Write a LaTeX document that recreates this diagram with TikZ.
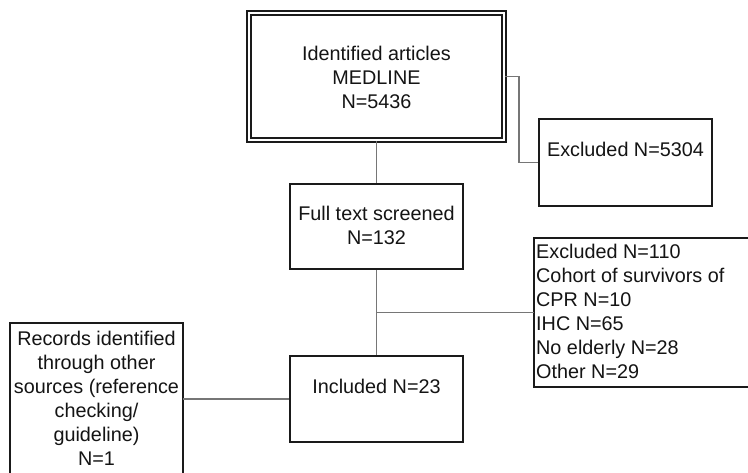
\documentclass[tikz,border=0pt]{standalone}
\usepackage{fontspec}
\setmainfont{Liberation Sans}
\definecolor{boxline}{HTML}{1A1A1A}
\definecolor{linkline}{HTML}{767676}
\definecolor{ink}{HTML}{141414}
\begin{document}
\begin{tikzpicture}[x=1pt,y=-1pt,
  box/.style={draw=boxline,line width=2pt,rectangle,inner sep=0pt,minimum width=173pt},
  openbox/.style={rectangle,inner sep=0pt},
  edge/.style={draw=boxline,line width=2pt},
  dbox/.style={draw=boxline,line width=1.8pt,double=white,double distance=2.4pt,rectangle,inner sep=0pt},
  link/.style={draw=linkline,line width=1.8pt},
  txt/.style={inner sep=0pt,text=ink,font=\fontsize{19.8}{24}\selectfont}
]
\useasboundingbox (0,0) rectangle (748,472);
\clip (0,0) rectangle (748,472);
\fill[white] (0,0) rectangle (748,472);

% boxes
\node[dbox,minimum width=255pt,minimum height=127pt] (ident) at (376.5,76.5) {};
\node[box,minimum height=87pt] (excl1) at (625.5,162.5) {};
\node[box,minimum height=85pt] (full) at (376.5,226.5) {};
\node[box,minimum height=86pt] (incl) at (376.5,399) {};
% boxes that run off the edge: only their visible sides are drawn
\node[openbox,minimum width=240pt,minimum height=149pt] (excl2) at (654,312.5) {};
\draw[edge] (excl2.north east) -- (excl2.north west) -- (excl2.south west) -- (excl2.south east);
\node[openbox,minimum width=173pt,minimum height=177pt] (other) at (96.5,411.5) {};
\draw[edge] (other.south west) -- (other.north west) -- (other.north east) -- (other.south east);

% texts
\node[txt,anchor=north,align=center] (tIdent) at (376.5,45.7)
  {Identified articles\\MEDLINE\\N=5436};
\node[txt,anchor=north] (tExcl1) at (625.5,142.2) {Excluded N=5304};
\node[txt,anchor=north,align=center] (tFull) at (376.5,205.7)
  {Full text screened\\N=132};
\node[txt,anchor=north west,align=left] (tExcl2) at (536,244.4)
  {Excluded N=110\\Cohort of survivors of\\CPR N=10\\IHC N=65\\No elderly N=28\\Other N=29};
\node[txt,anchor=north] (tIncl) at (376.5,378.7) {Included N=23};
\node[txt,anchor=north,align=center] (tOther) at (96.5,330.7)
  {Records identified\\through other\\sources (reference\\checking/\\guideline)\\N=1};

% connectors
\draw[link] (ident.south) -- (full.north);
\draw[link] (ident.east) -- ++(14,0) |- (excl1.west);
\draw[link] (full.south) -- (incl.north);
\draw[link] (excl2.west) -- (excl2.west -| full.south);
\draw[link] (incl.west) -- (incl.west -| other.east);
\end{tikzpicture}
\end{document}
